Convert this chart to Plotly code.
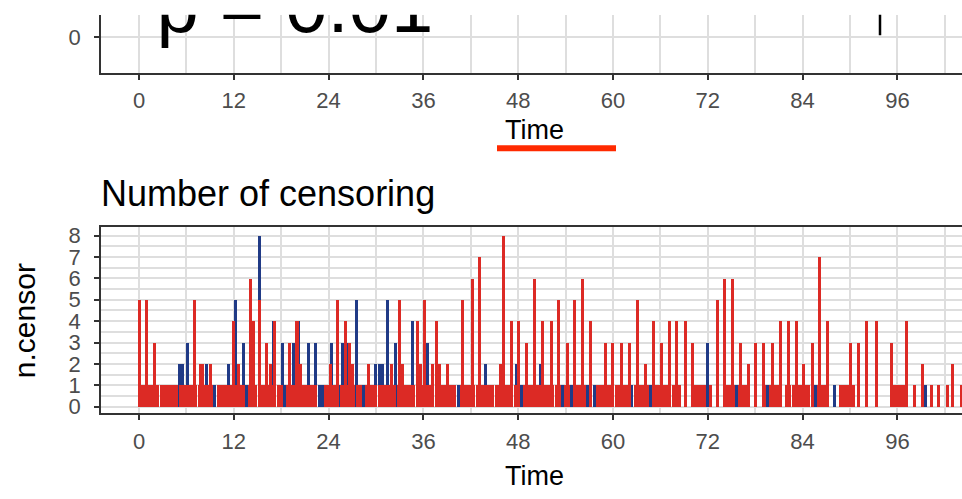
import plotly.graph_objects as go

W, H = 962, 499

# ---------------- data ----------------
x_ticks = [0, 12, 24, 36, 48, 60, 72, 84, 96]
y_ticks_censor = [0, 1, 2, 3, 4, 5, 6, 7, 8]

# red stratum: censoring counts > 1 (and isolated late singles)
red_tall_time = [0.1, 1.0, 1.9, 7.0, 7.8, 8.1, 9.0, 12.0, 12.6, 14.1, 14.5, 15.2, 16.1, 16.6,
                 17.2, 19.1, 20.0, 20.5, 24.2, 25.1, 26.1, 26.6, 27.0, 29.0, 32.0, 33.0, 33.4,
                 35.2, 35.6, 36.1, 37.2, 37.6, 38.0, 39.1, 41.0, 42.2, 43.1, 45.7, 46.1, 47.2,
                 48.1, 49.1, 50.1, 51.1, 52.2, 53.1, 54.2, 55.1, 56.1, 57.1, 59.1, 60.0, 61.1,
                 62.1, 63.1, 64.1, 65.1, 66.1, 67.1, 68.1, 69.2, 70.1, 73.2, 74.1, 75.1, 76.1,
                 77.1, 78.1, 79.1, 80.2, 81.2, 82.2, 83.2, 84.1, 85.2, 86.1, 87.1, 90.1, 91.1,
                 92.1, 93.3, 95.2, 97.2, 98.2, 99.2, 100.3, 101.2, 102.3, 103.0, 104.1]
red_tall_n = [5, 5, 3, 5, 2, 2, 2, 4, 2, 6, 4, 5, 3, 2,
              4, 3, 4, 2, 2, 5, 4, 3, 2, 2, 2, 5, 2,
              4, 2, 5, 2, 4, 2, 2, 5, 6, 7, 2, 8, 4,
              4, 3, 6, 4, 4, 5, 3, 5, 6, 4, 3, 3, 3,
              3, 5, 2, 4, 3, 4, 4, 4, 3, 5, 6, 6, 3,
              2, 3, 3, 3, 4, 4, 4, 2, 3, 7, 4, 3, 3,
              4, 4, 3, 4, 1, 2, 1, 1, 1, 2, 1]

# red stratum: times with a single censoring
red_one_time = [0.0, 0.4, 0.8, 1.2, 1.6, 2.0, 2.4, 2.8, 3.2, 3.6, 4.0, 4.4, 4.8, 5.2, 5.6, 6.0,
                6.4, 6.8, 7.2, 7.6, 8.0, 8.4, 8.8, 9.2, 10.0, 10.4, 10.8, 11.2, 11.6, 12.0, 12.4,
                12.8, 13.2, 14.0, 14.4, 14.8, 15.2, 15.6, 16.0, 16.4, 16.8, 17.2, 17.6, 18.0, 18.8,
                19.2, 19.6, 20.0, 20.4, 20.8, 21.2, 21.6, 22.0, 22.4, 23.6, 24.0, 24.4, 24.8, 25.6,
                26.0, 26.4, 26.8, 27.2, 27.6, 28.0, 28.8, 29.2, 29.6, 30.0, 30.4, 30.8, 31.2, 31.6,
                32.0, 32.4, 32.8, 33.2, 33.6, 34.0, 34.4, 34.8, 35.2, 35.6, 36.0, 36.4, 36.8, 37.2,
                37.6, 38.0, 38.4, 38.8, 39.2, 39.6, 40.0, 40.8, 41.2, 41.6, 42.0, 42.4, 42.8, 43.2,
                43.6, 44.0, 44.4, 44.8, 45.2, 45.6, 46.0, 46.4, 46.8, 47.2, 47.6, 48.0, 48.8, 49.2,
                49.6, 50.0, 50.4, 50.8, 51.2, 51.6, 52.0, 52.4, 52.8, 53.2, 54.0, 54.4, 55.2, 55.6,
                56.0, 56.4, 57.2, 58.0, 58.4, 58.8, 59.2, 59.6, 60.0, 60.4, 60.8, 61.2, 61.6, 62.0,
                62.8, 63.2, 63.6, 64.0, 64.4, 65.2, 65.6, 66.0, 66.4, 66.8, 67.2, 67.6, 68.4, 70.4,
                70.8, 71.2, 71.6, 72.4, 74.4, 74.8, 75.2, 76.0, 76.4, 76.8, 79.2, 80.0, 80.4, 80.8,
                82.0, 82.4, 82.8, 83.2, 83.6, 84.0, 84.4, 84.8, 85.2, 86.0, 86.4, 86.8, 87.2, 88.8,
                89.2, 89.6, 90.0, 90.4, 95.6, 96.0, 96.4, 96.8]

# blue stratum
blue_time = [5.1, 5.5, 6.2, 8.6, 9.6, 11.3, 12.2, 13.2, 13.6, 14.4, 15.2, 17.0, 18.2, 18.4,
             19.6, 20.2, 21.4, 22.4, 22.8, 23.2, 24.4, 25.2, 25.7, 26.5, 27.5, 28.4, 30.0, 30.4,
             30.8, 31.5, 32.5, 34.6, 36.5, 40.4, 43.8, 47.8, 48.4, 50.8, 53.6, 54.8, 56.8, 57.6,
             62.4, 64.8, 68.0, 72.0, 75.6, 79.6, 85.6, 88.0, 99.6]
blue_n = [2, 2, 3, 2, 1, 2, 5, 3, 1, 4, 8, 4, 3, 1,
          3, 4, 3, 3, 1, 1, 3, 1, 3, 3, 5, 1, 2, 2,
          2, 5, 3, 4, 3, 1, 2, 2, 1, 2, 1, 1, 1, 1,
          1, 1, 1, 3, 1, 1, 1, 1, 1]

# upper (cropped) panel
top_y_ticks = [0]
pval_label = "p = 0.01"
pval_pos = [2.2, 0.68]
censor_mark_time = [93.8, 93.8]
censor_mark_y = [0.06, 1.0]

# ---------------- styling ----------------
RED = "#dc2a25"
BLUE = "#203a86"
GRID = "#dedede"
AXIS = "#333333"
FONT = "Liberation Sans, Arial, sans-serif"
TICKFONT = dict(family=FONT, size=22, color="#4d4d4d")


def py(p):
    return 1 - p / H


def px(p):
    return p / W


fig = go.Figure()

fig.add_trace(go.Bar(x=blue_time, y=blue_n, width=0.38, marker=dict(color=BLUE, line=dict(width=0)),
                     xaxis="x2", yaxis="y2", showlegend=False))
fig.add_trace(go.Bar(x=red_one_time, y=[1] * len(red_one_time), width=0.38,
                     marker=dict(color=RED, line=dict(width=0)),
                     xaxis="x2", yaxis="y2", showlegend=False))
fig.add_trace(go.Bar(x=red_tall_time, y=red_tall_n, width=0.38,
                     marker=dict(color=RED, line=dict(width=0)),
                     xaxis="x2", yaxis="y2", showlegend=False))

fig.add_trace(go.Scatter(x=[pval_pos[0]], y=[pval_pos[1]], mode="text", text=[pval_label],
                         textposition="middle right", cliponaxis=True,
                         textfont=dict(family=FONT, size=76, color="black"),
                         xaxis="x", yaxis="y", showlegend=False, hoverinfo="skip"))
fig.add_trace(go.Scatter(x=censor_mark_time, y=censor_mark_y, mode="lines", cliponaxis=True,
                         line=dict(color="black", width=2.5),
                         xaxis="x", yaxis="y", showlegend=False, hoverinfo="skip"))

x_left = 101
xrange = [-4.81, 104.18]

common_x = dict(
    range=xrange, domain=[px(x_left), 1], tickmode="array", tickvals=x_ticks,
    ticks="outside", ticklen=5, tickwidth=1.6, tickcolor=AXIS, tickfont=TICKFONT,
    showline=True, linecolor=AXIS, linewidth=1.6, showgrid=True, gridcolor=GRID, gridwidth=1.7,
    zeroline=False, ticklabelstandoff=2,
    minor=dict(tickmode="linear", tick0=0, dtick=6, showgrid=True, gridcolor=GRID, gridwidth=1.7, ticklen=0),
)

fig.update_layout(
    width=W, height=H, margin=dict(l=0, r=0, t=0, b=0),
    paper_bgcolor="white", plot_bgcolor="white", barmode="overlay", bargap=0,
    showlegend=False,
    xaxis=dict(common_x, anchor="y"),
    yaxis=dict(domain=[py(71), py(12)], range=[-1, 23 / 36], tickmode="array", tickvals=top_y_ticks,
               ticks="outside", ticklen=5, tickwidth=1.6, tickcolor=AXIS, tickfont=TICKFONT,
               showline=True, linecolor=AXIS, linewidth=1.6, showgrid=True, gridcolor=GRID,
               gridwidth=1.7, zeroline=False, anchor="x", ticklabelstandoff=9),
    xaxis2=dict(common_x, anchor="y2", mirror=True),
    yaxis2=dict(domain=[py(418), py(228)], range=[-0.32, 8.41], tickmode="array",
                tickvals=y_ticks_censor, ticks="outside", ticklen=5, tickwidth=1.6, tickcolor=AXIS,
                tickfont=TICKFONT, showline=True, linecolor=AXIS, linewidth=1.6, showgrid=True,
                gridcolor=GRID, gridwidth=1.7, zeroline=False, anchor="x2", ticklabelstandoff=9,
                minor=dict(tickmode="linear", tick0=0, dtick=0.5, showgrid=True, gridcolor=GRID,
                           gridwidth=1.7, ticklen=0)),
    annotations=[
        dict(text="Time", x=px(534), y=py(129), xref="paper", yref="paper", showarrow=False,
             xanchor="center", yanchor="middle", font=dict(family=FONT, size=27, color="black")),
        dict(text="Number of censoring", x=px(99), y=py(194), xref="paper", yref="paper",
             showarrow=False, xanchor="left", yanchor="middle",
             font=dict(family=FONT, size=36, color="black")),
        dict(text="n.censor", x=px(24), y=py(324), xref="paper", yref="paper", showarrow=False,
             xanchor="center", yanchor="middle", textangle=-90,
             font=dict(family=FONT, size=30, color="black")),
        dict(text="Time", x=px(534), y=py(482), xref="paper", yref="paper", showarrow=False,
             xanchor="center", yanchor="middle", font=dict(family=FONT, size=27, color="black")),
    ],
    shapes=[
        dict(type="line", xref="paper", yref="paper", x0=px(497), x1=px(616), y0=py(148), y1=py(148),
             line=dict(color="#ff2a00", width=6)),
    ],
)

fig.write_html("out.html")
